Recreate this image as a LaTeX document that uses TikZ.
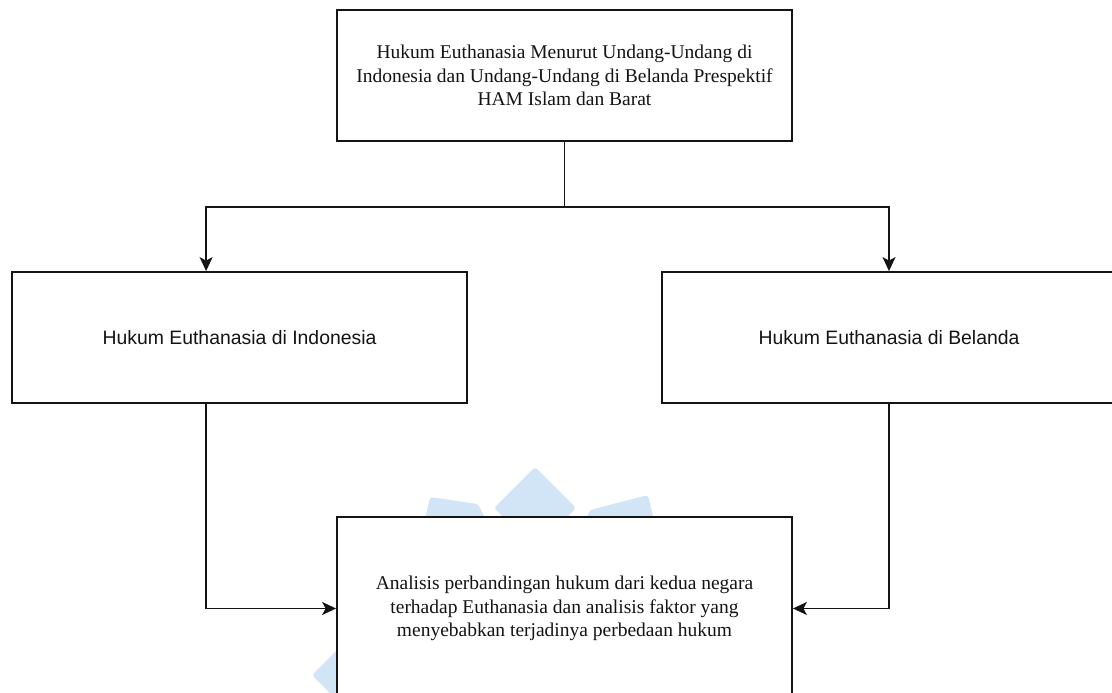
\documentclass[tikz,border=0pt]{standalone}
\usepackage{fontspec}
\setmainfont{Liberation Serif}
\newfontfamily\arialfont{Liberation Sans}
\usetikzlibrary{arrows.meta}
\definecolor{wmblue}{RGB}{210,229,246}
\definecolor{ink}{RGB}{20,20,20}
\tikzset{
  box/.style={draw=ink, line width=1.8pt, fill=white, rectangle, inner sep=0pt,
    align=center, text=ink, font=\fontsize{19.5}{23.4}\selectfont},
  sansbox/.style={box, font=\arialfont\fontsize{19.4}{23.4}\selectfont},
  link/.style={draw=ink, line width=1.5pt},
  arr/.style={link, -{Stealth[length=14pt,width=13pt,inset=3.5pt]}},
  petal/.style={fill=wmblue, draw=none, rounded corners=3pt}
}
\begin{document}
\begin{tikzpicture}[x=1pt,y=-1pt]
\useasboundingbox (0,0) rectangle (1112,693);
\clip (0,0) rectangle (1112,693);
% watermark
\fill[petal] (535,467) -- (576,508) -- (535,549) -- (494,508) -- cycle;
\fill[petal] (425,520) -- (430,497) -- (478,504) -- (486,520) -- cycle;
\fill[petal] (586,520) -- (590,510) -- (648,495) -- (654,520) -- cycle;
\fill[petal] (312,675) -- (355,632) -- (398,675) -- (355,718) -- cycle;
% boxes
\node[box, minimum width=455pt, minimum height=131pt] (top) at (564.5,75.5)
  {Hukum Euthanasia Menurut Undang-Undang di\\Indonesia dan Undang-Undang di Belanda Prespektif\\HAM Islam dan Barat};
\node[sansbox, minimum width=455pt, minimum height=131pt] (left) at (239.5,337.5)
  {Hukum Euthanasia di Indonesia};
\node[sansbox, minimum width=454pt, minimum height=131pt] (right) at (889,337.5)
  {Hukum Euthanasia di Belanda};
\node[box, minimum width=455pt, minimum height=183pt] (bottom) at (564.5,608.5)
  {Analisis perbandingan hukum dari kedua negara\\terhadap Euthanasia dan analisis faktor yang\\menyebabkan terjadinya perbedaan hukum};
% connectors
\coordinate (j) at (564.5,207);
\draw[link] (top.south) -- (j);
\draw[arr] (j) -| ([xshift=195pt]left.north west);
\draw[arr] (j) -| (right.north);
\draw[arr] ([xshift=195pt]left.south west) |- (bottom.west);
\draw[arr] (right.south) |- (bottom.east);
\end{tikzpicture}
\end{document}
